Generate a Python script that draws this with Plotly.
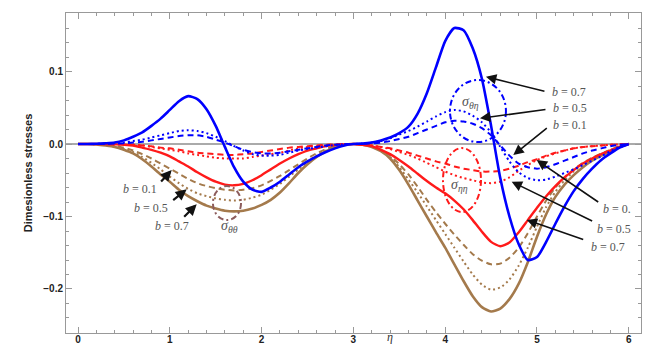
import plotly.graph_objects as go

eta = [round(0.1 * i, 1) for i in range(61)]

# sigma_theta_eta (blue)
blue_b07 = [0, 0, 0.0003, 0.001, 0.002, 0.005, 0.010, 0.016, 0.025, 0.035,
            0.047, 0.059, 0.066, 0.062, 0.048, 0.025, -0.004, -0.032, -0.052, -0.063,
            -0.066, -0.060, -0.052, -0.042, -0.032, -0.024, -0.017, -0.011, -0.006, -0.002,
            0, 0.0005, 0.002, 0.005, 0.009, 0.015, 0.024, 0.042, 0.070, 0.106,
            0.142, 0.160, 0.157, 0.132, 0.090, 0.025, -0.047, -0.100, -0.138, -0.160,
            -0.156, -0.135, -0.110, -0.086, -0.065, -0.048, -0.034, -0.022, -0.013, -0.005, 0]
blue_b05 = [0, 0, 0.0002, 0.0005, 0.001, 0.002, 0.004, 0.006, 0.009, 0.012,
            0.015, 0.018, 0.019, 0.018, 0.015, 0.010, 0.004, -0.003, -0.009, -0.014,
            -0.016, -0.016, -0.015, -0.012, -0.009, -0.007, -0.005, -0.003, -0.0015, -0.0005,
            0, 0.0008, 0.002, 0.004, 0.008, 0.013, 0.018, 0.024, 0.031, 0.038,
            0.044, 0.047, 0.045, 0.039, 0.030, 0.016, -0.004, -0.024, -0.039, -0.047,
            -0.050, -0.049, -0.045, -0.040, -0.035, -0.029, -0.023, -0.017, -0.010, -0.004, 0]
blue_b01 = [0, 0, 0, 0.0003, 0.0006, 0.001, 0.002, 0.003, 0.005, 0.007,
            0.009, 0.011, 0.012, 0.012, 0.010, 0.006, 0.002, -0.003, -0.008, -0.011,
            -0.013, -0.013, -0.012, -0.010, -0.008, -0.006, -0.004, -0.002, -0.001, -0.0003,
            0, 0.0005, 0.001, 0.002, 0.004, 0.007, 0.010, 0.015, 0.020, 0.025,
            0.030, 0.032, 0.031, 0.028, 0.022, 0.012, -0.002, -0.016, -0.027, -0.032,
            -0.034, -0.032, -0.028, -0.023, -0.018, -0.013, -0.009, -0.006, -0.003, -0.001, 0]

# sigma_eta_eta (red)
red_b07 = [0, 0, 0, 0, -0.0005, -0.001, -0.002, -0.005, -0.008, -0.012,
           -0.017, -0.024, -0.031, -0.039, -0.046, -0.052, -0.056, -0.057, -0.055, -0.050,
           -0.043, -0.035, -0.027, -0.020, -0.014, -0.009, -0.006, -0.003, -0.0015, -0.0005,
           0, -0.001, -0.003, -0.008, -0.014, -0.022, -0.031, -0.041, -0.051, -0.060,
           -0.068, -0.078, -0.090, -0.105, -0.121, -0.135, -0.141, -0.136, -0.122, -0.105,
           -0.088, -0.072, -0.058, -0.046, -0.036, -0.027, -0.020, -0.014, -0.009, -0.004, 0]
red_b05 = [0, 0, 0, 0, -0.0003, -0.0006, -0.001, -0.002, -0.004, -0.006,
           -0.008, -0.010, -0.013, -0.015, -0.017, -0.019, -0.020, -0.020, -0.020, -0.018,
           -0.016, -0.014, -0.012, -0.009, -0.006, -0.004, -0.003, -0.002, -0.001, 0,
           0, -0.001, -0.002, -0.004, -0.007, -0.011, -0.015, -0.020, -0.026, -0.032,
           -0.038, -0.043, -0.047, -0.050, -0.053, -0.054, -0.052, -0.046, -0.037, -0.029,
           -0.022, -0.017, -0.013, -0.009, -0.006, -0.004, -0.003, -0.002, -0.001, -0.0005, 0]
red_b01 = [0, 0, 0, 0, 0, -0.0005, -0.001, -0.002, -0.003, -0.005,
           -0.006, -0.008, -0.010, -0.012, -0.013, -0.014, -0.015, -0.015, -0.014, -0.013,
           -0.011, -0.009, -0.007, -0.005, -0.004, -0.003, -0.002, -0.001, -0.0005, 0,
           0, -0.001, -0.002, -0.004, -0.006, -0.009, -0.012, -0.016, -0.020, -0.024,
           -0.027, -0.031, -0.034, -0.036, -0.038, -0.038, -0.037, -0.034, -0.030, -0.025,
           -0.021, -0.016, -0.012, -0.009, -0.006, -0.004, -0.003, -0.002, -0.001, -0.0005, 0]

# sigma_theta_theta (brown)
brown_b07 = [0, 0, -0.0005, -0.002, -0.004, -0.008, -0.013, -0.021, -0.031, -0.042,
             -0.052, -0.063, -0.072, -0.079, -0.085, -0.089, -0.092, -0.093, -0.092, -0.089,
             -0.084, -0.077, -0.067, -0.054, -0.040, -0.028, -0.018, -0.010, -0.005, -0.0015,
             0, -0.001, -0.004, -0.010, -0.020, -0.036, -0.056, -0.078, -0.100, -0.122,
             -0.143, -0.166, -0.189, -0.210, -0.225, -0.231, -0.227, -0.214, -0.193, -0.163,
             -0.128, -0.097, -0.073, -0.056, -0.043, -0.032, -0.023, -0.016, -0.010, -0.004, 0]
brown_b05 = [0, 0, -0.0004, -0.0015, -0.0035, -0.007, -0.011, -0.018, -0.026, -0.035,
             -0.045, -0.054, -0.062, -0.068, -0.072, -0.075, -0.077, -0.078, -0.077, -0.074,
             -0.070, -0.063, -0.055, -0.045, -0.035, -0.025, -0.016, -0.009, -0.004, -0.001,
             0, -0.001, -0.0035, -0.009, -0.018, -0.032, -0.049, -0.067, -0.086, -0.105,
             -0.124, -0.143, -0.162, -0.180, -0.194, -0.201, -0.198, -0.187, -0.168, -0.143,
             -0.114, -0.087, -0.066, -0.050, -0.038, -0.028, -0.020, -0.014, -0.008, -0.003, 0]
brown_b01 = [0, 0, -0.0003, -0.001, -0.0025, -0.005, -0.009, -0.014, -0.020, -0.027,
             -0.034, -0.041, -0.048, -0.054, -0.058, -0.061, -0.063, -0.064, -0.063, -0.061,
             -0.057, -0.051, -0.044, -0.036, -0.028, -0.020, -0.013, -0.007, -0.003, -0.001,
             0, -0.001, -0.003, -0.008, -0.016, -0.028, -0.042, -0.059, -0.077, -0.094,
             -0.110, -0.125, -0.139, -0.152, -0.161, -0.166, -0.165, -0.157, -0.143, -0.123,
             -0.100, -0.078, -0.060, -0.046, -0.035, -0.026, -0.019, -0.013, -0.008, -0.003, 0]

x_ticks = [0, 1, 2, 3, 4, 5, 6]
y_ticks = [-0.2, -0.1, 0.0, 0.1]

BLUE = "#0000ff"
RED = "#ff1a1a"
BROWN = "#a47a4c"

DASH = "6px,4px"
DOT = "2px,3px"

fig = go.Figure()

series = [
    (brown_b01, BROWN, DASH, 2), (brown_b05, BROWN, DOT, 2), (brown_b07, BROWN, "solid", 2.6),
    (red_b01, RED, DASH, 2), (red_b05, RED, DOT, 2), (red_b07, RED, "solid", 2.4),
    (blue_b01, BLUE, DASH, 2), (blue_b05, BLUE, DOT, 2), (blue_b07, BLUE, "solid", 2.6),
]
for ys, col, dash, w in series:
    fig.add_trace(go.Scatter(x=eta, y=ys, mode="lines",
                             line=dict(color=col, dash=dash, width=w, shape="spline", smoothing=0.6),
                             showlegend=False, hoverinfo="skip"))

# dash-dot ellipses
DASHDOT = "6px,3px,2px,3px"
fig.add_shape(type="circle", xref="x", yref="y", x0=4.052, x1=4.662, y0=0.0027, y1=0.0883,
              line=dict(color=BLUE, width=2, dash=DASHDOT))
fig.add_shape(type="circle", xref="x", yref="y", x0=3.976, x1=4.39, y0=-0.0938, y1=-0.0056,
              line=dict(color=RED, width=2, dash=DASHDOT))
fig.add_shape(type="circle", xref="x", yref="y", x0=1.47, x1=1.776, y0=-0.105, y1=-0.058,
              line=dict(color="#8c5c5c", width=2, dash=DASHDOT))

LBL = dict(family="Liberation Serif, Times New Roman, serif", size=12, color="#555555")
SIG = dict(family="Liberation Serif, Times New Roman, serif", size=14, color="#555555")

labels = [
    (0.675, -0.062, "<i>b</i> = 0.1", LBL),
    (0.795, -0.0883, "<i>b</i> = 0.5", LBL),
    (1.024, -0.113, "<i>b</i> = 0.7", LBL),
    (5.349, 0.0717, "<i>b</i> = 0.7", LBL),
    (5.359, 0.049, "<i>b</i> = 0.5", LBL),
    (5.359, 0.0269, "<i>b</i> = 0.1", LBL),
    (5.871, -0.0897, "<i>b</i> = 0.", LBL),
    (5.839, -0.1166, "<i>b</i> = 0.5", LBL),
    (5.773, -0.1414, "<i>b</i> = 0.7", LBL),
    (4.281, 0.0579, "<i>σ</i><sub><i>θη</i></sub>", SIG),
    (4.161, -0.0566, "<i>σ</i><sub><i>ηη</i></sub>", SIG),
    (1.645, -0.1138, "<i>σ</i><sub><i>θθ</i></sub>", SIG),
]
for x, y, t, f in labels:
    fig.add_annotation(x=x, y=y, xref="x", yref="y", text=t, showarrow=False, font=f)

arrows = [
    (1.021, -0.0359, -12, 13, 2.2, 1.0),
    (1.184, -0.0625, -15, 12, 2.2, 1.0),
    (1.293, -0.0832, -14, 14, 2.2, 1.0),
    (4.444, 0.0928, 60, 15, 1.6, 1.3),
    (4.379, 0.0354, 67, -9, 1.6, 1.3),
    (4.742, -0.0152, 35, -28, 1.6, 1.3),
    (4.997, -0.0221, 63, 43, 1.6, 1.3),
    (4.724, -0.052, 82, 40, 1.6, 1.3),
    (4.888, -0.1048, 58, 20, 1.6, 1.3),
]
for x, y, ax, ay, w, s in arrows:
    fig.add_annotation(x=x, y=y, xref="x", yref="y", text="", showarrow=True,
                       ax=ax, ay=ay, arrowhead=2, arrowsize=s, arrowwidth=w,
                       arrowcolor="#111111")

fig.add_annotation(x=3.4, y=-0.0125, xref="x", yref="paper", text="<i>η</i>",
                   showarrow=False, yanchor="middle", borderpad=0,
                   font=dict(family="Liberation Serif, serif", size=12, color="#333333"))

TICKF = dict(family="Liberation Sans, Arial, sans-serif", size=10, color="#222222", weight="bold")
FRAME = "#999999"

fig.update_layout(
    width=647, height=345,
    margin=dict(l=66, r=6, t=13, b=12),
    paper_bgcolor="white", plot_bgcolor="white",
    showlegend=False,
    xaxis=dict(range=[-0.1307, 6.133], tickvals=x_ticks, ticktext=[str(v) for v in x_ticks],
               ticks="inside", ticklen=6, tickcolor=FRAME, showline=True, linecolor=FRAME,
               linewidth=1, mirror="ticks", showgrid=False, zeroline=False,
               tickfont=TICKF, automargin=False, ticklabelstandoff=-3,
               minor=dict(dtick=0.2, tick0=0, ticks="inside", ticklen=3, tickcolor=FRAME, showgrid=False)),
    yaxis=dict(range=[-0.2607, 0.1807], tickvals=y_ticks, tickformat=".1f",
               ticks="inside", ticklen=6, tickcolor=FRAME, showline=True, linecolor=FRAME,
               linewidth=1, mirror="ticks", showgrid=False,
               zeroline=True, zerolinecolor="#aaaaaa", zerolinewidth=1.5,
               tickfont=TICKF, automargin=False,
               title=dict(text="Dimesionless stresses", standoff=8,
                          font=dict(family="Liberation Sans, Arial, sans-serif", size=11,
                                    color="#222222", weight="bold")),
               minor=dict(dtick=0.02, tick0=0, ticks="inside", ticklen=3, tickcolor=FRAME, showgrid=False)),
)

fig.write_html("out.html")
